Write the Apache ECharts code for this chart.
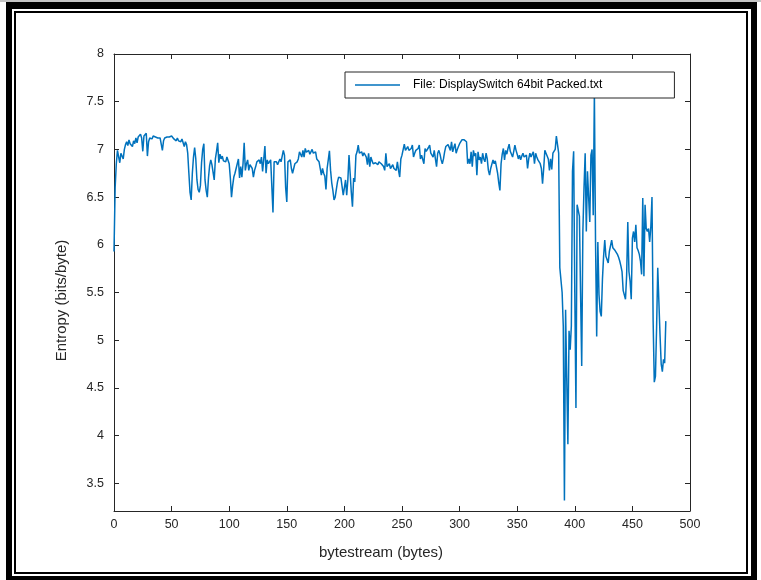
<!DOCTYPE html>
<html><head><meta charset="utf-8">
<script src="https://cdn.jsdelivr.net/npm/echarts@6/dist/echarts.min.js"></script>
<style>html,body{margin:0;padding:0;background:#fff}#c{width:761px;height:580px}</style>
</head><body><div id="c"></div>
<script>
// Entropy per byte offset (0..479)
const entropy = [
5.93,6.6,6.85,6.99,7.01,6.86,6.96,6.95,6.9,7.0,
7.05,7.08,7.04,7.1,7.06,7.08,7.03,7.09,7.06,7.12,
7.07,7.13,7.11,7.16,7.12,6.98,7.14,7.16,7.17,6.93,
7.08,7.12,7.13,7.11,7.14,7.12,7.13,7.15,7.12,7.14,
7.12,7.1,6.99,7.09,7.12,7.14,7.13,7.15,7.13,7.12,
7.14,7.12,7.11,7.12,7.09,7.12,7.09,7.1,7.08,7.11,
7.09,7.03,7.08,7.05,6.96,6.75,6.55,6.47,6.75,6.92,
7.02,6.9,6.68,6.58,6.55,6.62,6.86,7.0,7.06,6.68,
6.57,6.5,6.7,6.83,6.89,6.84,6.82,6.68,6.9,6.98,
7.07,6.86,6.95,6.9,6.93,6.88,6.9,6.87,6.92,6.9,
6.85,6.7,6.5,6.62,6.71,6.75,6.8,6.85,6.9,6.7,
6.82,6.71,6.85,7.07,6.78,6.85,6.89,6.78,6.84,6.86,
6.8,6.71,6.78,6.82,6.87,6.85,6.89,6.85,6.92,6.77,
6.9,7.035,6.75,6.89,6.85,6.87,6.89,6.87,6.34,6.87,
6.86,6.87,6.84,6.85,6.9,6.87,6.88,6.99,6.94,6.6,
6.45,6.87,6.88,6.89,6.8,6.75,6.8,6.85,6.84,6.87,
6.9,6.975,6.96,6.92,6.99,6.92,7.01,6.97,6.98,6.99,
6.95,6.96,7.0,6.96,6.98,6.975,6.9,6.92,6.87,6.8,
6.73,6.8,6.75,6.72,6.58,6.8,6.89,6.985,6.78,6.65,
6.57,6.47,6.5,6.52,6.66,6.71,6.69,6.7,6.71,6.52,
6.6,6.68,6.52,6.68,6.94,6.75,6.55,6.4,6.7,6.66,
6.94,6.975,7.045,6.96,6.98,6.975,6.93,6.965,6.95,6.92,
6.84,6.96,6.82,6.92,6.88,6.85,6.87,6.86,6.85,6.84,
6.87,6.86,6.85,6.85,6.82,6.78,6.96,6.82,6.84,6.85,
6.8,6.82,6.84,6.8,6.79,6.78,6.87,6.78,6.71,6.9,
6.94,6.96,7.055,6.99,7.0,7.03,6.99,6.975,7.01,7.045,
6.92,6.96,6.99,6.98,7.01,7.045,6.9,6.94,6.92,6.85,
7.01,6.98,6.975,7.02,7.045,6.96,6.94,6.92,6.99,6.9,
6.82,6.96,6.99,6.95,6.89,6.85,6.9,6.975,7.03,7.03,
7.05,7.06,6.99,7.08,6.975,7.02,7.06,6.96,7.0,7.03,
7.06,7.08,7.1,7.105,7.1,7.09,7.08,6.85,6.9,6.85,
6.975,6.82,6.99,6.93,6.96,6.73,6.975,6.89,6.92,6.85,
6.96,6.9,6.87,6.96,6.9,6.78,6.73,6.8,6.82,6.89,
6.85,6.88,6.87,6.75,6.65,6.57,6.85,6.95,7.01,6.89,
6.99,6.95,7.01,7.055,6.98,6.975,6.92,6.98,7.045,6.99,
6.95,6.9,6.94,6.89,6.93,6.96,6.92,6.93,6.94,6.8,
6.9,6.96,6.92,6.95,6.975,6.85,6.96,6.92,6.89,6.87,
6.85,6.8,6.64,6.8,6.99,6.96,6.93,6.9,6.78,6.9,
6.79,6.96,6.975,7.0,7.14,7.05,6.96,5.76,5.74,5.5,
5.15,3.32,5.32,4.6,3.91,5.1,4.9,5.15,6.77,6.98,
5.5,4.29,6.42,6.43,6.3,5.5,4.73,6.14,6.6,6.96,
6.14,6.77,6.5,6.24,6.94,7.0,6.31,7.6,6.03,5.04,
6.03,5.48,5.3,5.25,5.64,5.88,6.05,5.88,5.86,5.81,
5.93,5.91,6.05,5.97,5.95,5.94,5.93,5.9,5.87,5.83,
5.78,5.72,5.52,5.54,5.43,5.68,6.24,5.72,5.62,5.43,
6.07,6.14,6.03,6.21,5.97,5.94,5.9,5.83,5.69,6.49,
5.67,6.42,6.17,6.14,6.17,6.03,6.19,6.5,5.2,4.56,
4.62,5.13,5.76,5.4,5.05,4.75,4.67,4.8,4.76,5.2
];
const xTicks = [0,50,100,150,200,250,300,350,400,450,500];
const yTicks = [3.5,4,4.5,5,5.5,6,6.5,7,7.5,8];
const seriesName = 'File: DisplaySwitch 64bit Packed.txt';
const xTitle = 'bytestream (bytes)';
const yTitle = 'Entropy (bits/byte)';

const FONT = '"Liberation Sans", Arial, Helvetica, sans-serif';
const AX = '#262626';
const points = entropy.map((v, i) => [i, v]);

const chart = echarts.init(document.getElementById('c'), null, {renderer: 'canvas'});

function xAxisCfg(pos, labels) {
  return {
    type: 'value', position: pos, min: xTicks[0], max: xTicks[xTicks.length - 1], interval: 50,
    axisLine: {show: true, onZero: false, lineStyle: {color: AX, width: 1}},
    axisTick: {show: true, inside: true, length: 5, lineStyle: {color: AX, width: 1}},
    axisLabel: {show: labels, color: AX, fontSize: 12.5, fontFamily: FONT, margin: 7},
    splitLine: {show: false},
    name: labels ? xTitle : '',
    nameLocation: 'middle', nameGap: 34,
    nameTextStyle: {color: AX, fontSize: 15, fontFamily: FONT, padding: [0, 42, 0, 0]}
  };
}
function yAxisCfg(pos, labels) {
  return {
    type: 'value', position: pos, min: 3.21, max: 8,
    axisLine: {show: true, onZero: false, lineStyle: {color: AX, width: 1}},
    axisTick: {show: true, inside: true, length: 5, customValues: yTicks, lineStyle: {color: AX, width: 1}},
    axisLabel: {show: labels, customValues: yTicks, color: AX, fontSize: 12.5, fontFamily: FONT, margin: 10},
    splitLine: {show: false},
    name: labels ? yTitle : '',
    nameLocation: 'middle', nameGap: 45,
    nameTextStyle: {color: AX, fontSize: 15, fontFamily: FONT, padding: [0, 36, 0, 0]}
  };
}

const frame = [
  [0, 0, 761, 2, '#c4c4c4'],
  [6, 2, 751, 7, '#000'], [6, 2, 6, 578, '#000'], [6, 576, 751, 4, '#000'], [751, 2, 6, 578, '#000'],
  [14, 11, 734, 2, '#000'], [14, 11, 2, 563, '#000'], [14, 572, 734, 2, '#000'], [746, 11, 2, 563, '#000']
].map(r => ({type: 'rect', silent: true, shape: {x: r[0], y: r[1], width: r[2], height: r[3]}, style: {fill: r[4]}}));

chart.setOption({
  animation: false,
  backgroundColor: '#fff',
  grid: {left: 114, right: 71, top: 54, bottom: 69, containLabel: false},
  graphic: frame,
  legend: {
    left: 345, top: 72, orient: 'horizontal',
    padding: [7, 72, 7, 10],
    itemWidth: 45, itemHeight: 14,
    backgroundColor: '#fff', borderColor: AX, borderWidth: 1,
    textStyle: {color: '#000', fontSize: 12, fontFamily: FONT, padding: [0, 0, 0, 8]},
    data: [{name: seriesName, icon: 'path://M0,0H45V1.5H0Z'}]
  },
  xAxis: [xAxisCfg('bottom', true), xAxisCfg('top', false)],
  yAxis: [yAxisCfg('left', true), yAxisCfg('right', false)],
  series: [{
    name: seriesName, type: 'line', xAxisIndex: 0, yAxisIndex: 0,
    data: points, symbol: 'none', showSymbol: false,
    lineStyle: {color: '#0072BD', width: 1.5},
    itemStyle: {color: '#0072BD'}
  }]
});
</script>
</body></html>
